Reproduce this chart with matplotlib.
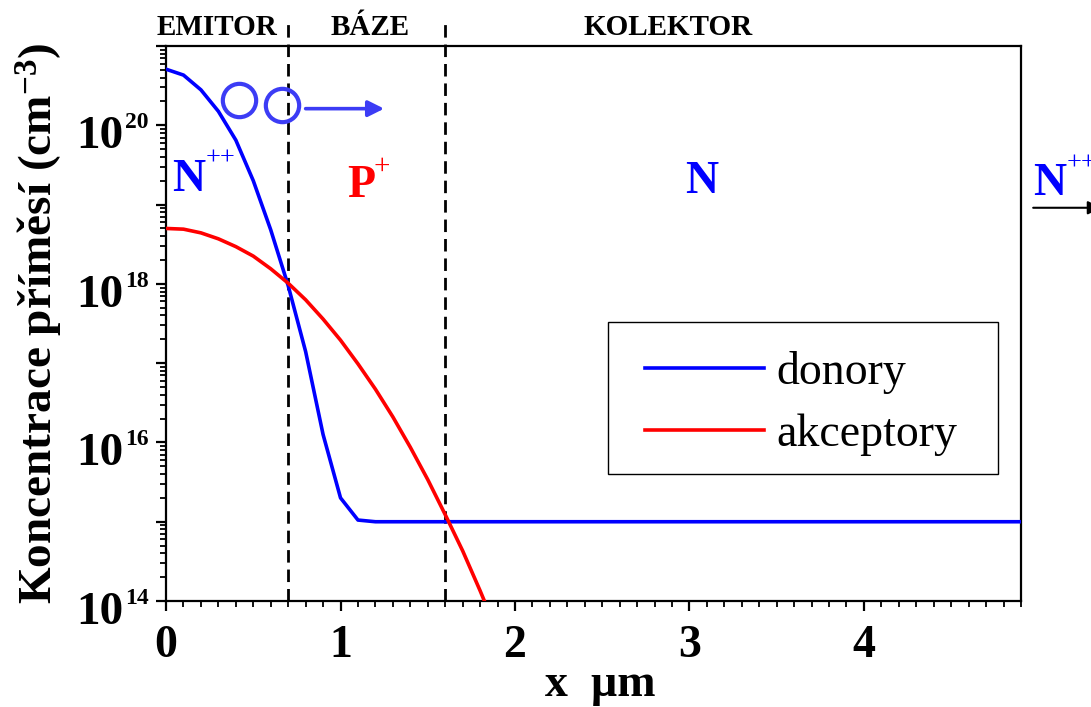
import matplotlib
matplotlib.use('Agg')

import numpy as np
import matplotlib.pyplot as plt
from matplotlib.patches import Rectangle
from matplotlib.ticker import FixedLocator, MultipleLocator, LogLocator, NullFormatter

plt.rcParams['font.family'] = ['Liberation Serif', 'DejaVu Serif']
plt.rcParams['font.weight'] = 'bold'
plt.rcParams['mathtext.fontset'] = 'custom'
plt.rcParams['mathtext.rm'] = 'Liberation Serif'
plt.rcParams['mathtext.bf'] = 'Liberation Serif:bold'
plt.rcParams['mathtext.it'] = 'Liberation Serif:italic'

#========================================================
# doping profile of the bipolar transistor (x in um, N in cm^-3)
x_don = [0.0, 0.1, 0.2, 0.3, 0.4, 0.5, 0.6, 0.7, 0.8, 0.9, 1.0, 1.1, 1.2, 4.9]
n_don = [5.1e20, 4.3e20, 2.8e20, 1.5e20, 6.5e19, 2.0e19, 4.8e18, 9.5e17,
         1.4e17, 1.26e16, 2.0e15, 1.05e15, 1.0e15, 1.0e15]

x_acc = [0.0, 0.1, 0.2, 0.3, 0.4, 0.5, 0.6, 0.7, 0.8, 0.9, 1.0,
         1.1, 1.2, 1.3, 1.4, 1.5, 1.6, 1.7, 1.8, 1.9]
n_acc = [5.0e18, 4.9e18, 4.4e18, 3.7e18, 2.95e18, 2.24e18, 1.55e18, 1.02e18,
         6.3e17, 3.6e17, 1.95e17, 9.8e16, 4.7e16, 2.1e16, 8.7e15, 3.4e15,
         1.23e15, 4.3e14, 1.35e14, 4.0e13]

# junction positions and region names
junctions = [0.7, 1.6]
regions = ['EMITOR', 'BÁZE', 'KOLEKTOR']
region_x = [0.29, 1.17, 2.88]
decades = [14, 16, 18, 20]
#========================================================

fig = plt.figure(figsize=(10.91, 7.07), dpi=100)
ax = fig.add_axes([0.1522, 0.1499, 0.7836, 0.7850])

ax.semilogy(x_don, n_don, color='#0000ff', lw=2.6, label='donory', zorder=3)
ax.semilogy(x_acc, n_acc, color='#ff0000', lw=2.6, label='akceptory', zorder=3)

for xj in junctions:
    ax.plot([xj, xj], [1e14, 10**21.35], color='black', lw=2.0,
            ls=(0, (4.5, 2.5)), clip_on=False, zorder=2)

for name, xr in zip(regions, region_x):
    ax.text(xr, 10**21.14, name, ha='center', va='baseline', fontsize=21,
            fontweight='bold', clip_on=False)

ax.set_xlim(0, 4.9)
ax.set_ylim(1e14, 1e21)

ax.xaxis.set_major_locator(MultipleLocator(1))
ax.xaxis.set_minor_locator(MultipleLocator(0.1))
ax.yaxis.set_major_locator(FixedLocator([10.0**k for k in range(14, 22)]))
ax.yaxis.set_minor_locator(LogLocator(base=10, subs=np.arange(2, 10), numticks=20))
ax.yaxis.set_minor_formatter(NullFormatter())
ax.yaxis.set_major_formatter(NullFormatter())

ax.tick_params(which='major', direction='out', length=7, width=1.6,
               labelsize=33, top=False, right=False)
ax.tick_params(which='minor', direction='out', length=4, width=1.3,
               top=False, right=False)
ax.tick_params(axis='x', pad=10)
for lab in ax.get_xticklabels():
    lab.set_fontweight('bold')
for sp in ax.spines.values():
    sp.set_linewidth(1.6)

# y tick labels: big "10" with a small exponent
ytrans = ax.get_yaxis_transform()
for k in decades:
    ax.annotate('10', xy=(0, 10.0**k), xycoords=ytrans, xytext=(-31, -16.5),
                textcoords='offset points', ha='right', va='baseline',
                fontsize=34, fontweight='bold', annotation_clip=False)
    ax.annotate(str(k), xy=(0, 10.0**k), xycoords=ytrans, xytext=(-29.5, -2),
                textcoords='offset points', ha='left', va='baseline',
                fontsize=17, fontweight='bold', annotation_clip=False)

ax.set_xlabel('x  µm', fontsize=33, fontweight='bold', labelpad=-2)
ax.xaxis.label.set_x(0.508)
ax.set_ylabel(r'Koncentrace příměsí (cm$^{\mathbf{-3}}$)', fontsize=34,
              fontweight='bold', labelpad=62)


def doping_label(x, y, base, sup, color, dx, dy, size=33, sup_size=19,
                 sup_weight='normal'):
    ax.text(x, y, base, color=color, fontsize=size, fontweight='bold',
            ha='left', va='baseline', clip_on=False)
    if sup:
        ax.annotate(sup, xy=(x, y), xytext=(dx, dy), textcoords='offset points',
                    color=color, fontsize=sup_size, fontweight=sup_weight,
                    ha='left', va='baseline', annotation_clip=False)


# region type labels
doping_label(0.034, 1.5e19, 'N', '++', '#0000ff', 24.5, 18.5)
doping_label(1.04, 1.26e19, 'P', '+', '#ff0000', 19, 16.5, sup_size=21)
ax.text(3.07, 1.4e19, 'N', color='#0000ff', fontsize=33, fontweight='bold',
        ha='center', va='baseline')
doping_label(4.97, 1.32e19, 'N', '++', '#0000ff', 24, 18.5)
ax.annotate('', xy=(5.36, 10**18.96), xytext=(4.97, 10**18.96),
            arrowprops=dict(arrowstyle='-|>', color='black', lw=1.5,
                            mutation_scale=20, shrinkA=0, shrinkB=0),
            annotation_clip=False)

# electrons injected from the emitter
ax.plot([0.42, 0.665], [10**20.32, 10**20.26], ls='none', marker='o', ms=24,
        mfc='none', mec='#3c3cf5', mew=3.0, zorder=5)
ax.annotate('', xy=(1.25, 10**20.21), xytext=(0.80, 10**20.21),
            arrowprops=dict(arrowstyle='-|>', color='#3c3cf5', lw=2.6,
                            mutation_scale=24, shrinkA=0, shrinkB=0))

leg = ax.legend(loc='upper left', frameon=False,
                prop={'family': 'Liberation Serif', 'weight': 'normal', 'size': 33},
                handlelength=2.6, handletextpad=0.26, labelspacing=0.42,
                borderpad=0, borderaxespad=0)
leg.set_bbox_to_anchor((645 / 1091, 1 - 351 / 707), transform=fig.transFigure)
fig.patches.append(Rectangle((608 / 1091, 1 - 474 / 707), 390 / 1091, 152 / 707,
                             transform=fig.transFigure, fill=False,
                             edgecolor='black', lw=1.0, zorder=1))

fig.savefig('out.png', dpi=100)
